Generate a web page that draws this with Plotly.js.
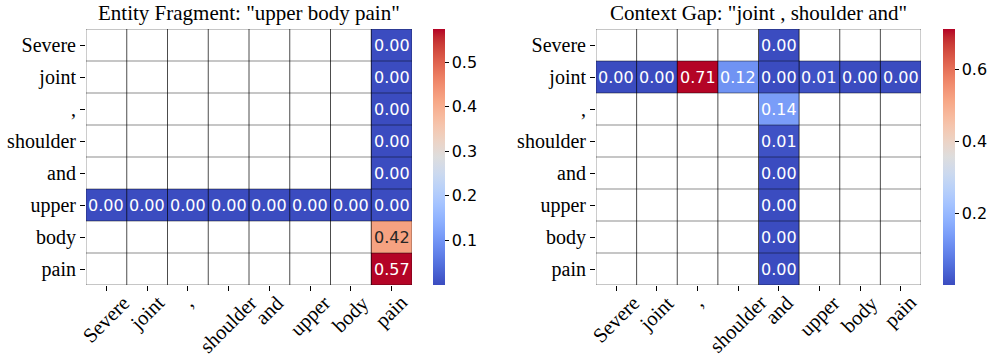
<!DOCTYPE html>
<html><head><meta charset="utf-8">
<script src="https://cdn.plot.ly/plotly-3.0.1.min.js"></script>
<style>html,body{margin:0;padding:0;background:#fff}</style>
</head><body><div id="chart" style="width:996px;height:356px"></div>
<script>
// ---- data ----
const tokens = ["Severe", "joint", ",", "shoulder", "and", "upper", "body", "pain"];
const leftTitle = 'Entity Fragment: "upper body pain"';
const rightTitle = 'Context Gap: "joint , shoulder and"';
// Left: row "upper" and column "pain"
const leftRowToken = "upper";
const leftRowValues = [0.00, 0.00, 0.00, 0.00, 0.00, 0.00, 0.00, 0.00];
const leftColToken = "pain";
const leftColValues = [0.00, 0.00, 0.00, 0.00, 0.00, 0.00, 0.42, 0.574];
// Right: row "joint" and column "and"
const rightRowToken = "joint";
const rightRowValues = [0.00, 0.00, 0.714, 0.12, 0.00, 0.01, 0.00, 0.00];
const rightColToken = "and";
const rightColValues = [0.00, 0.00, 0.14, 0.01, 0.00, 0.00, 0.00, 0.00];
const leftCbTicks = [0.1, 0.2, 0.3, 0.4, 0.5];
const rightCbTicks = [0.2, 0.4, 0.6];

// ---- coolwarm ----
const cw = [[59,76,192],[68,90,204],[77,104,215],[87,117,225],[98,130,234],[108,142,241],[119,154,247],[130,165,251],[141,176,254],[152,185,255],[163,194,255],[174,201,253],[184,208,249],[194,213,244],[204,217,238],[213,219,230],[221,221,221],[229,216,209],[236,211,197],[241,204,184],[245,196,172],[247,187,159],[247,177,147],[247,167,134],[244,154,123],[241,141,111],[236,127,99],[229,112,88],[222,96,77],[213,80,66],[203,62,56],[192,40,47],[180,4,38]];
const colorscale = cw.map((c,i)=>[i/(cw.length-1), `rgb(${c[0]},${c[1]},${c[2]})`]);
function cmap(t){
  t=Math.max(0,Math.min(1,t)); const p=t*(cw.length-1); const i=Math.min(Math.floor(p),cw.length-2); const f=p-i;
  return cw[i].map((v,k)=>v+(cw[i+1][k]-v)*f);
}
function lum(c){
  const l=c.map(v=>{v/=255;return v<=0.03928?v/12.92:Math.pow((v+0.055)/1.055,2.4);});
  return 0.2126*l[0]+0.7152*l[1]+0.0722*l[2];
}

function buildMatrix(rowTok,rowVals,colTok,colVals){
  const n=tokens.length; const ri=tokens.indexOf(rowTok), ci=tokens.indexOf(colTok);
  const z=[];
  for(let r=0;r<n;r++){const row=[];for(let c=0;c<n;c++){
    if(r===ri) row.push(rowVals[c]); else if(c===ci) row.push(colVals[r]); else row.push(null);
  } z.push(row);}
  return z;
}
const zL=buildMatrix(leftRowToken,leftRowValues,leftColToken,leftColValues);
const zR=buildMatrix(rightRowToken,rightRowValues,rightColToken,rightColValues);

const serif='"Liberation Serif", "Times New Roman", serif';
const sans='"DejaVu Sans", sans-serif';
const W=996,H=356;
const yTop=29, yBot=285;
const dom={L:[86/W,412/W], R:[596/W,921/W]};
const ydom=[1-yBot/H,1-yTop/H];
const N=tokens.length;

function trace(z,xa,ya,cbx,ticks){
  const flat=z.flat().filter(v=>v!==null);
  return {type:'heatmap',z:z,x:tokens,y:tokens,xaxis:xa,yaxis:ya,colorscale:colorscale,
    zmin:Math.min(...flat),zmax:Math.max(...flat),hoverinfo:'skip',
    colorbar:{x:cbx/W,xanchor:'left',xref:'paper',y:1-yBot/H,yanchor:'bottom',yref:'paper',len:(yBot-yTop)/H,lenmode:'fraction',
      thickness:12,outlinewidth:0,ticks:'outside',ticklen:4,tickwidth:1,tickcolor:'#000',tickvals:ticks,
      tickfont:{family:sans,size:16,color:'#000'},xpad:0,ypad:0}};
}
const data=[trace(zL,'x','y',433,leftCbTicks),trace(zR,'x2','y2',943,rightCbTicks)];

const annotations=[];
function addText(z,xa,ya){
  const flat=z.flat().filter(v=>v!==null); const mn=Math.min(...flat), mx=Math.max(...flat);
  z.forEach((row,r)=>row.forEach((v,c)=>{ if(v===null)return;
    const col=cmap((v-mn)/(mx-mn)); const tc=lum(col)>0.408?'#262626':'#ffffff';
    annotations.push({x:tokens[c],y:tokens[r],xref:xa,yref:ya,text:v.toFixed(2),showarrow:false,
      font:{family:sans,size:16,color:tc}});
  }));
}
addText(zL,'x','y'); addText(zR,'x2','y2');
function xLabels(xa){
  tokens.forEach(t=>annotations.push({x:t,xref:xa,y:1-290/H,yref:'paper',text:t,textangle:-45,showarrow:false,
    xanchor:'center',yanchor:'top',borderpad:0,font:{family:serif,size:20.5,color:'#000'}}));
}
xLabels('x'); xLabels('x2');
annotations.push({text:leftTitle,x:(dom.L[0]+dom.L[1])/2,y:1-13/H,xref:'paper',yref:'paper',xanchor:'center',yanchor:'middle',showarrow:false,font:{family:serif,size:21,color:'#000'}});
annotations.push({text:rightTitle,x:(dom.R[0]+dom.R[1])/2,y:1-13/H,xref:'paper',yref:'paper',xanchor:'center',yanchor:'middle',showarrow:false,font:{family:serif,size:21,color:'#000'}});

const shapes=[];
function grid(xa,ya){
  for(let i=0;i<=N;i++){
    const outer=(i===0||i===N);
    const lc=outer?'rgba(0,0,0,0.4)':'rgba(0,0,0,0.7)';
    shapes.push({type:'line',xref:xa,yref:ya,x0:i-0.5,x1:i-0.5,y0:-0.5,y1:N-0.5,line:{color:lc,width:1},layer:'above'});
    shapes.push({type:'line',xref:xa,yref:ya,y0:i-0.5,y1:i-0.5,x0:-0.5,x1:N-0.5,line:{color:'rgba(0,0,0,0.45)',width:1},layer:'above'});
  }
}
grid('x','y'); grid('x2','y2');

function xax(d,anchor){return {domain:d,anchor:anchor,type:'category',range:[-0.5,N-0.5],autorange:false,automargin:false,showticklabels:false,ticks:'outside',ticklen:5,tickwidth:1,tickcolor:'#000',
  showgrid:false,zeroline:false,showline:false,fixedrange:true};}
function yax(anchor){return {domain:ydom,anchor:anchor,type:'category',range:[N-0.5,-0.5],autorange:false,automargin:false,ticks:'outside',ticklen:5,tickwidth:1,tickcolor:'#000',
  showgrid:false,zeroline:false,showline:false,tickfont:{family:serif,size:20,color:'#000'},fixedrange:true};}

const layout={width:W,height:H,margin:{l:0,r:0,t:0,b:0,autoexpand:false},paper_bgcolor:'#fff',plot_bgcolor:'#fff',showlegend:false,
  xaxis:xax(dom.L,'y'),yaxis:yax('x'),xaxis2:xax(dom.R,'y2'),yaxis2:yax('x2'),annotations:annotations,shapes:shapes};
Plotly.newPlot('chart',data,layout,{staticPlot:true,displayModeBar:false});
</script></body></html>
